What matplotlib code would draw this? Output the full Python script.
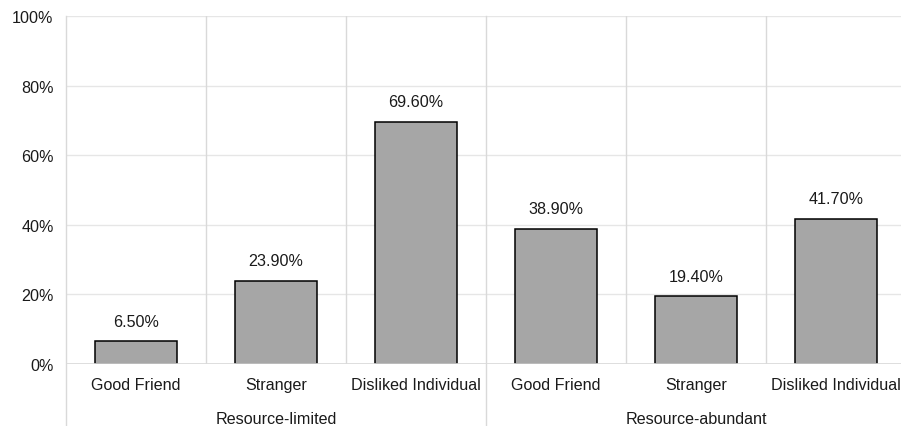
import matplotlib.pyplot as plt
from matplotlib.ticker import PercentFormatter

groups = ["Resource-limited", "Resource-abundant"]
targets = ["Good Friend", "Stranger", "Disliked Individual"]
values = [6.5, 23.9, 69.6, 38.9, 19.4, 41.7]
yticks = [0, 20, 40, 60, 80, 100]

plt.rcParams['font.family'] = ['Liberation Sans', 'DejaVu Sans']
FS = 11.6

W, H = 901, 427
fig = plt.figure(figsize=(W / 100, H / 100), dpi=100)
left, right, top, bottom = 66, 906, 17, 365
ax = fig.add_axes([left / W, (H - bottom) / H, (right - left) / W, (bottom - top) / H])

n = len(groups) * len(targets)
x = list(range(n))
bars = ax.bar(x, values, width=0.58, color="#a6a6a6", edgecolor="black", linewidth=1.1, zorder=3)
for xi, v in zip(x, values):
    ax.annotate(f"{v:.2f}%", (xi, v), xytext=(0, 9), textcoords="offset points",
                ha="center", va="bottom", fontsize=FS, color="#1a1a1a")

ax.set_xlim(-0.5, n - 0.5)
ax.set_ylim(0, 100)
ax.set_yticks(yticks)
ax.yaxis.set_major_formatter(PercentFormatter(decimals=0))
ax.tick_params(axis="y", length=0, pad=9, labelsize=FS, labelcolor="#1a1a1a")
ax.set_xticks([])
for s in ax.spines.values():
    s.set_visible(False)

for yv in yticks:
    ax.axhline(yv, color="#e6e6e6", linewidth=1.0, zorder=1)
ax.axhline(0, color="#d9d9d9", linewidth=1.2, zorder=4)

# category separators; group boundaries run down through the label rows
per = len(targets)
for i in range(n + 1):
    xb = i - 0.5
    if i % per == 0:
        ax.plot([xb, xb], [-0.2, 1], transform=ax.get_xaxis_transform(), color="#d9d9d9",
                linewidth=1.0, clip_on=False, zorder=2)
    else:
        ax.axvline(xb, color="#d9d9d9", linewidth=1.0, zorder=2)

trans = ax.get_xaxis_transform()
for gi, g in enumerate(groups):
    for ti, t in enumerate(targets):
        ax.text(gi * per + ti, -21 / (bottom - top), t, transform=trans,
                ha="center", va="center", fontsize=FS, color="#1a1a1a")
    ax.text(gi * per + (per - 1) / 2, -55 / (bottom - top), g, transform=trans,
            ha="center", va="center", fontsize=FS, color="#1a1a1a")

fig.savefig("out.png", dpi=100)
